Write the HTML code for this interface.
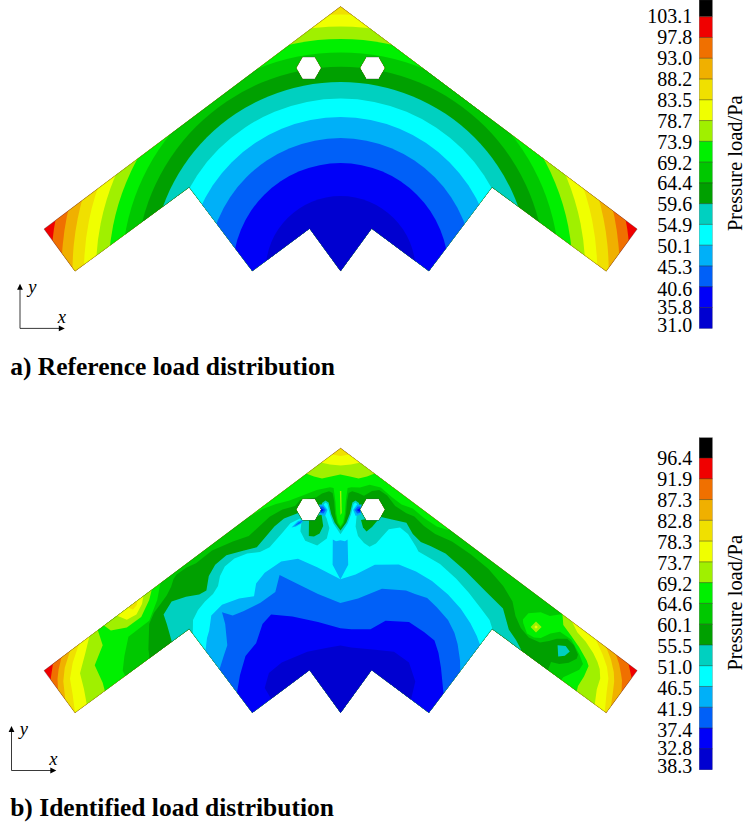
<!DOCTYPE html>
<html><head><meta charset="utf-8"><title>Load distribution</title>
<style>
html,body{margin:0;padding:0;background:#fff;}
body{width:750px;height:825px;overflow:hidden;position:relative;font-family:"Liberation Serif",serif;}
svg{position:absolute;left:0;top:0;}
text{font-family:"Liberation Serif",serif;fill:#000;}
</style></head><body>
<svg width="750" height="825" viewBox="0 0 750 825">
<defs>
<clipPath id="clipa"><path d="M340.6,6.6 L44.0,229.0 L75.0,271.2 L189.2,187.3 L252.3,271.1 L309.6,228.5 L340.6,271.1 L371.6,228.5 L428.9,271.1 L492.0,187.3 L606.2,271.2 L637.2,229.0ZM296.1,68.0 L302.4,57.1 L315.0,57.1 L321.3,68.0 L315.0,78.9 L302.4,78.9ZM359.9,68.0 L366.2,57.1 L378.8,57.1 L385.1,68.0 L378.8,78.9 L366.2,78.9Z" clip-rule="evenodd"/></clipPath>
<clipPath id="clipb"><path d="M340.6,448.2 L44.0,670.6 L75.0,712.8 L189.2,628.9 L252.3,712.7 L309.6,670.1 L340.6,712.7 L371.6,670.1 L428.9,712.7 L492.0,628.9 L606.2,712.8 L637.2,670.6ZM296.1,509.6 L302.4,498.7 L315.0,498.7 L321.3,509.6 L315.0,520.5 L302.4,520.5ZM359.9,509.6 L366.2,498.7 L378.8,498.7 L385.1,509.6 L378.8,520.5 L366.2,520.5Z" clip-rule="evenodd"/></clipPath>
</defs>
<g clip-path="url(#clipa)">
<rect x="0" y="0" width="750" height="300" fill="#f00000"/>
<circle cx="340.6" cy="271.0" r="289.7" fill="#f07000"/>
<circle cx="340.6" cy="271.0" r="279.1" fill="#f0b000"/>
<circle cx="340.6" cy="271.0" r="268.1" fill="#f0e000"/>
<circle cx="340.6" cy="271.0" r="256.6" fill="#f0ff00"/>
<circle cx="340.6" cy="271.0" r="244.6" fill="#a0f000"/>
<circle cx="340.6" cy="271.0" r="232.0" fill="#00f000"/>
<circle cx="340.6" cy="271.0" r="218.6" fill="#00c800"/>
<circle cx="340.6" cy="271.0" r="204.3" fill="#00a000"/>
<circle cx="340.6" cy="271.0" r="189.0" fill="#00d0c0"/>
<circle cx="340.6" cy="271.0" r="172.4" fill="#00ffff"/>
<circle cx="340.6" cy="271.0" r="153.9" fill="#00b0f8"/>
<circle cx="340.6" cy="271.0" r="132.9" fill="#0060f8"/>
<circle cx="340.6" cy="271.0" r="107.9" fill="#0000f8"/>
<circle cx="340.6" cy="271.0" r="75.0" fill="#0000d0"/>
</g>
<path d="M340.6,6.6 L44.0,229.0 L75.0,271.2 L189.2,187.3 L252.3,271.1 L309.6,228.5 L340.6,271.1 L371.6,228.5 L428.9,271.1 L492.0,187.3 L606.2,271.2 L637.2,229.0ZM296.1,68.0 L302.4,57.1 L315.0,57.1 L321.3,68.0 L315.0,78.9 L302.4,78.9ZM359.9,68.0 L366.2,57.1 L378.8,57.1 L385.1,68.0 L378.8,78.9 L366.2,78.9Z" fill="none" stroke="#333" stroke-width="0.6" stroke-opacity="0.55"/>
<g clip-path="url(#clipb)">
<rect x="0" y="425.0" width="750" height="320.0" fill="#f00000"/>
<path d="M53.0,425.0 L53.0,663.5 L50.7,679.0 L49.5,690.0 L49.5,745.0 L632.5,745.0 L632.5,690.0 L631.6,678.0 L628.6,664.3 L628.6,425.0Z" fill="#f07000" />
<path d="M61.6,425.0 L61.6,657.0 L58.6,669.5 L57.5,679.0 L58.0,688.5 L58.0,700.0 L58.0,745.0 L621.5,745.0 L621.5,702.0 L621.6,690.5 L622.0,680.6 L621.0,673.8 L619.1,664.1 L615.9,654.6 L615.9,425.0Z" fill="#f0b000" />
<path d="M70.0,425.0 L70.0,651.0 L64.7,668.0 L63.3,681.3 L65.3,699.5 L66.0,712.0 L66.0,745.0 L610.5,745.0 L610.5,716.0 L611.0,705.5 L612.8,693.2 L614.2,681.6 L613.8,671.9 L610.9,659.2 L606.2,647.3 L606.2,425.0Z" fill="#f0e000" />
<path d="M78.7,425.0 L78.7,644.7 L72.7,662.7 L70.0,678.7 L72.7,694.7 L74.9,712.0 L75.0,720.0 L75.0,745.0 L604.5,745.0 L604.5,722.0 L604.8,711.6 L606.5,693.2 L608.4,678.6 L607.0,667.0 L602.6,654.4 L595.8,639.6 L595.8,425.0 L361.7,442.6 L349.7,454.6 L340.6,456.0 L331.5,454.6 L319.5,442.6Z" fill="#f0ff00" />
<path d="M89.3,425.0 L89.3,636.7 L85.3,653.3 L80.0,673.3 L84.0,689.3 L86.7,704.0 L87.0,715.0 L87.0,745.0 L594.5,745.0 L594.5,716.0 L594.8,704.0 L596.8,689.3 L600.2,678.6 L599.7,668.9 L597.5,662.0 L593.2,652.9 L585.8,641.7 L577.3,632.3 L571.9,621.6 L571.9,425.0 L372.6,450.4 L360.6,462.4 L351.0,464.6 L340.6,465.6 L330.0,464.6 L320.6,462.4 L308.6,450.4Z" fill="#a0f000" />
<path d="M98.0,425.0 L98.0,630.7 L102.7,645.3 L94.7,665.3 L102.7,682.7 L104.7,690.5 L105.0,702.0 L105.0,745.0 L576.5,745.0 L576.5,702.0 L576.7,691.5 L578.0,686.0 L584.0,676.5 L588.6,666.0 L586.7,660.4 L579.2,647.3 L570.8,635.2 L563.3,625.0 L562.5,614.2 L562.5,425.0 L386.6,461.4 L374.6,473.4 L367.0,476.5 L358.6,478.6 L350.0,476.5 L340.3,474.5 L331.0,476.5 L322.0,478.6 L314.0,476.5 L306.0,473.6 L294.0,461.6Z" fill="#00f000" />
<path d="M126.0,745.0 L126.0,690.0 L125.3,676.0 L122.7,670.7 L124.4,656.0 L128.4,636.8 L149.2,620.8 L157.2,600.0 L160.4,583.0 L158.0,568.0 L250.0,502.0 L250.4,516.0 L263.2,508.8 L276.0,504.0 L288.8,500.8 L303.3,495.3 L316.7,490.0 L330.0,487.3 L333.6,488.0 L335.4,501.2 L336.3,514.0 L338.0,522.4 L340.5,526.3 L343.0,522.4 L344.8,514.0 L345.8,501.2 L347.6,488.0 L351.3,487.3 L360.0,487.6 L369.6,484.8 L380.8,487.6 L392.0,497.2 L401.6,504.4 L412.8,508.4 L424.0,518.0 L436.8,526.5 L448.0,530.0 L455.0,520.0 L562.0,600.0 L562.4,614.0 L550.0,616.0 L540.7,612.2 L528.4,613.3 L522.9,619.4 L523.2,623.0 L527.0,633.5 L534.0,637.5 L540.8,638.0 L550.4,633.4 L560.0,631.8 L571.2,639.6 L579.2,654.0 L583.0,664.0 L579.3,669.8 L568.7,674.7 L563.3,677.3 L561.3,680.0 L560.0,692.0 L560.0,745.0Z" fill="#00c800" />
<path d="M149.5,745.0 L149.5,668.0 L149.2,655.0 L148.4,649.6 L149.2,624.0 L154.0,612.8 L160.5,604.0 L166.8,595.2 L171.0,587.0 L173.5,579.0 L176.5,574.5 L186.5,567.5 L196.0,563.2 L212.0,550.4 L232.8,541.6 L248.8,536.0 L269.6,516.8 L282.4,509.6 L295.2,506.0 L300.0,500.0 L316.0,497.5 L322.0,493.5 L329.0,491.3 L332.6,493.0 L334.2,501.2 L335.1,514.0 L337.0,523.0 L340.5,528.2 L344.0,523.0 L346.0,514.0 L347.0,501.2 L348.6,493.0 L352.2,491.3 L358.0,493.0 L364.0,495.8 L367.0,494.0 L372.0,491.0 L379.2,490.0 L387.2,495.6 L395.2,506.0 L406.4,513.2 L414.4,516.4 L424.0,526.0 L435.2,534.0 L452.0,541.5 L471.0,554.5 L488.5,569.0 L503.2,586.0 L512.5,601.5 L515.5,616.0 L520.8,628.0 L528.8,637.6 L540.0,642.4 L549.0,641.0 L556.7,638.7 L567.3,638.7 L574.0,645.3 L578.0,654.7 L576.7,658.7 L568.7,662.7 L559.3,664.0 L551.0,662.0 L548.0,670.0 L547.0,682.0 L547.0,745.0Z" fill="#00a000" />
<path d="M172.0,745.0 L172.0,652.0 L171.6,641.0 L166.8,624.0 L163.6,614.4 L171.6,601.6 L186.0,596.8 L199.2,594.4 L206.4,590.4 L208.8,576.0 L215.2,564.8 L226.4,555.2 L244.0,550.4 L256.8,547.2 L274.4,526.4 L284.0,518.4 L297.0,513.6 L302.0,511.0 L321.3,509.6 L322.0,503.0 L325.5,500.4 L328.6,502.5 L331.2,514.0 L334.6,522.4 L340.5,530.5 L346.4,522.4 L349.8,514.0 L352.4,502.5 L355.5,500.4 L359.0,503.0 L359.3,509.6 L381.0,517.0 L392.0,519.6 L406.4,522.8 L412.8,534.0 L420.8,542.0 L430.4,546.0 L445.5,553.6 L465.0,570.5 L485.8,591.5 L503.0,608.4 L508.8,629.6 L516.0,640.0 L521.0,649.6 L521.0,662.0 L521.0,745.0Z" fill="#00d0c0" />
<path d="M185.0,745.0 L185.0,642.0 L192.8,633.0 L193.0,620.0 L198.0,610.0 L205.0,601.5 L213.0,594.0 L218.0,586.0 L220.0,576.0 L224.8,566.4 L234.4,558.4 L247.2,553.6 L260.0,552.0 L269.6,547.2 L282.4,532.8 L290.4,523.2 L300.0,518.6 L301.6,521.0 L300.4,531.2 L305.2,540.8 L317.2,545.6 L326.8,538.4 L329.4,528.0 L326.5,518.0 L322.8,511.0 L323.2,505.0 L325.5,502.4 L327.5,504.0 L330.0,514.5 L333.4,523.5 L340.5,534.3 L347.6,523.5 L351.0,514.5 L353.5,504.0 L355.5,502.4 L357.8,505.0 L358.4,511.0 L356.6,516.0 L355.6,526.4 L358.0,536.0 L364.0,543.0 L369.6,546.8 L376.0,543.6 L388.8,529.2 L400.0,527.6 L408.0,534.0 L416.0,546.8 L418.4,551.5 L428.8,557.5 L440.0,564.0 L456.0,578.4 L468.8,592.8 L480.0,607.2 L489.6,620.0 L492.4,629.0 L497.0,642.0 L497.0,745.0Z" fill="#00ffff" />
<path d="M198.0,745.0 L198.0,658.0 L205.5,650.6 L207.0,638.0 L209.2,630.4 L211.3,615.5 L222.0,604.8 L239.1,598.4 L254.0,596.3 L256.1,583.5 L264.7,572.8 L281.2,561.5 L298.0,558.8 L317.2,567.2 L340.4,579.2 L355.6,574.4 L374.8,564.8 L398.8,564.5 L416.0,571.5 L432.0,581.0 L448.0,594.4 L460.8,608.8 L470.4,623.2 L476.8,636.0 L480.0,644.8 L488.0,652.0 L488.0,745.0Z" fill="#00b0f8" />
<path d="M332.8,539.6 L336.0,541.2 L340.4,540.2 L345.0,541.2 L347.6,539.4 L348.2,564.8 L340.4,579.6 L332.6,564.8Z" fill="#00b0f8" />
<path d="M212.0,745.0 L212.0,678.0 L219.5,669.3 L224.0,655.0 L227.3,645.3 L225.2,624.0 L222.0,612.3 L232.7,615.5 L243.3,611.2 L260.4,602.7 L275.3,592.0 L279.6,575.0 L296.7,583.5 L318.0,594.1 L340.4,603.0 L358.0,598.4 L382.0,588.8 L406.0,590.5 L415.0,594.0 L427.2,598.0 L436.8,607.2 L448.0,620.0 L454.4,632.8 L457.6,644.0 L460.0,660.0 L460.3,671.2 L468.0,680.0 L468.0,745.0Z" fill="#0060f8" />
<path d="M230.0,745.0 L230.0,702.0 L237.0,692.6 L240.0,675.0 L245.5,656.0 L256.1,643.2 L262.5,624.0 L271.1,614.4 L292.4,616.5 L318.0,621.9 L340.4,628.3 L351.3,629.3 L370.5,629.3 L385.5,620.8 L409.0,621.9 L424.0,632.0 L434.5,640.5 L438.5,653.0 L441.0,668.0 L443.5,693.3 L452.0,702.0 L452.0,745.0Z" fill="#0000f8" />
<path d="M271.0,745.0 L271.0,712.0 L271.1,698.7 L264.7,688.0 L268.9,673.0 L281.7,662.4 L307.3,651.7 L328.7,647.5 L340.4,645.5 L351.3,647.5 L372.7,649.6 L394.0,651.7 L409.0,662.4 L415.3,681.6 L411.0,699.4 L411.0,714.0 L411.0,745.0Z" fill="#0000d0" />
<path d="M309.0,519.0 L308.8,536.0 L314.0,536.6 L319.6,533.6 L323.2,526.0 L321.5,514.0 L316.0,517.0Z" fill="#00a000" />
<path d="M361.0,520.0 L363.0,527.5 L366.5,531.5 L372.0,527.0 L377.5,520.5 L372.0,518.0Z" fill="#00a000" />
<path d="M319.0,504.5 L323.5,504.5 L327.5,510.0 L325.0,516.0 L319.5,514.5Z" fill="#00b0f8" />
<path d="M320.0,506.5 L323.0,506.5 L325.8,510.0 L323.5,513.5 L320.0,512.8Z" fill="#0060f8" />
<path d="M320.5,508.0 L324.0,510.0 L321.0,512.0Z" fill="#0000f8" />
<path d="M361.7,504.5 L357.2,504.5 L353.2,510.0 L355.7,516.0 L361.2,514.5Z" fill="#00b0f8" />
<path d="M360.7,506.5 L357.7,506.5 L354.9,510.0 L357.2,513.5 L360.7,512.8Z" fill="#0060f8" />
<path d="M360.2,508.0 L356.7,510.0 L359.7,512.0Z" fill="#0000f8" />
<path d="M304.0,519.5 L298.0,521.0 L291.5,527.5 L296.0,526.5 L302.0,523.0Z" fill="#00b0f8" />
<path d="M302.5,520.5 L298.5,522.5 L294.0,526.2 L300.0,523.2Z" fill="#0060f8" />
<path d="M339.9,491.0 L341.3,491.0 L341.7,513.0 L340.5,515.0Z" fill="#a0f000" />
<path d="M98.0,612.0 L104.0,625.6 L110.8,630.4 L126.8,627.6 L141.2,617.0 L149.2,600.0 L151.8,589.4 L150.0,578.0Z" fill="#a0f000" />
<path d="M112.0,604.0 L117.2,615.8 L126.8,619.8 L136.4,614.4 L142.0,604.0 L143.4,596.0 L142.0,586.0Z" fill="#f0ff00" />
<path d="M126.0,600.0 L128.5,607.8 L133.0,609.6 L136.8,605.0 L137.5,600.5 L135.0,592.0Z" fill="#f0e000" />
<path d="M530.6,627.0 L536.0,621.6 L541.6,627.0 L536.0,632.4Z" fill="#a0f000" />
<path d="M534.3,627.0 L536.0,625.2 L537.8,627.0 L536.0,628.8Z" fill="#f0ff00" />
<path d="M557.6,645.2 L565.6,646.0 L569.8,651.6 L564.8,655.8 L558.2,656.6Z" fill="#00d0c0" />
</g>
<path d="M340.6,448.2 L44.0,670.6 L75.0,712.8 L189.2,628.9 L252.3,712.7 L309.6,670.1 L340.6,712.7 L371.6,670.1 L428.9,712.7 L492.0,628.9 L606.2,712.8 L637.2,670.6ZM296.1,509.6 L302.4,498.7 L315.0,498.7 L321.3,509.6 L315.0,520.5 L302.4,520.5ZM359.9,509.6 L366.2,498.7 L378.8,498.7 L385.1,509.6 L378.8,520.5 L366.2,520.5Z" fill="none" stroke="#333" stroke-width="0.6" stroke-opacity="0.55"/>
<rect x="699.2" y="0" width="13.2" height="16.7" fill="#000"/>
<rect x="699.2" y="16.70" width="13.2" height="21.07" fill="#f00000"/>
<rect x="699.2" y="37.47" width="13.2" height="21.07" fill="#f07000"/>
<rect x="699.2" y="58.24" width="13.2" height="21.07" fill="#f0b000"/>
<rect x="699.2" y="79.01" width="13.2" height="21.07" fill="#f0e000"/>
<rect x="699.2" y="99.78" width="13.2" height="21.07" fill="#f0ff00"/>
<rect x="699.2" y="120.55" width="13.2" height="21.07" fill="#a0f000"/>
<rect x="699.2" y="141.32" width="13.2" height="21.07" fill="#00f000"/>
<rect x="699.2" y="162.09" width="13.2" height="21.07" fill="#00c800"/>
<rect x="699.2" y="182.86" width="13.2" height="21.07" fill="#00a000"/>
<rect x="699.2" y="203.63" width="13.2" height="21.07" fill="#00d0c0"/>
<rect x="699.2" y="224.40" width="13.2" height="21.07" fill="#00ffff"/>
<rect x="699.2" y="245.17" width="13.2" height="21.07" fill="#00b0f8"/>
<rect x="699.2" y="265.94" width="13.2" height="21.07" fill="#0060f8"/>
<rect x="699.2" y="286.71" width="13.2" height="21.07" fill="#0000f8"/>
<rect x="699.2" y="307.48" width="13.2" height="21.07" fill="#0000d0"/>
<line x1="699.2" y1="16.70" x2="712.4" y2="16.70" stroke="#303020" stroke-width="0.6" stroke-opacity="0.8"/>
<line x1="699.2" y1="37.47" x2="712.4" y2="37.47" stroke="#303020" stroke-width="0.6" stroke-opacity="0.8"/>
<line x1="699.2" y1="58.24" x2="712.4" y2="58.24" stroke="#303020" stroke-width="0.6" stroke-opacity="0.8"/>
<line x1="699.2" y1="79.01" x2="712.4" y2="79.01" stroke="#303020" stroke-width="0.6" stroke-opacity="0.8"/>
<line x1="699.2" y1="99.78" x2="712.4" y2="99.78" stroke="#303020" stroke-width="0.6" stroke-opacity="0.8"/>
<line x1="699.2" y1="120.55" x2="712.4" y2="120.55" stroke="#303020" stroke-width="0.6" stroke-opacity="0.8"/>
<line x1="699.2" y1="141.32" x2="712.4" y2="141.32" stroke="#303020" stroke-width="0.6" stroke-opacity="0.8"/>
<line x1="699.2" y1="162.09" x2="712.4" y2="162.09" stroke="#303020" stroke-width="0.6" stroke-opacity="0.8"/>
<line x1="699.2" y1="182.86" x2="712.4" y2="182.86" stroke="#303020" stroke-width="0.6" stroke-opacity="0.8"/>
<line x1="699.2" y1="203.63" x2="712.4" y2="203.63" stroke="#303020" stroke-width="0.6" stroke-opacity="0.8"/>
<line x1="699.2" y1="224.40" x2="712.4" y2="224.40" stroke="#303020" stroke-width="0.6" stroke-opacity="0.8"/>
<line x1="699.2" y1="245.17" x2="712.4" y2="245.17" stroke="#303020" stroke-width="0.6" stroke-opacity="0.8"/>
<line x1="699.2" y1="265.94" x2="712.4" y2="265.94" stroke="#303020" stroke-width="0.6" stroke-opacity="0.8"/>
<line x1="699.2" y1="286.71" x2="712.4" y2="286.71" stroke="#303020" stroke-width="0.6" stroke-opacity="0.8"/>
<line x1="699.2" y1="307.48" x2="712.4" y2="307.48" stroke="#303020" stroke-width="0.6" stroke-opacity="0.8"/>
<rect x="699.2" y="0" width="13.2" height="328.25" fill="none" stroke="#404040" stroke-width="0.4" stroke-opacity="0.6"/>
<text x="692.2" y="23.0" font-size="20" text-anchor="end">103.1</text>
<text x="692.2" y="43.9" font-size="20" text-anchor="end">97.8</text>
<text x="692.2" y="64.9" font-size="20" text-anchor="end">93.0</text>
<text x="692.2" y="85.8" font-size="20" text-anchor="end">88.2</text>
<text x="692.2" y="106.7" font-size="20" text-anchor="end">83.5</text>
<text x="692.2" y="127.7" font-size="20" text-anchor="end">78.7</text>
<text x="692.2" y="148.6" font-size="20" text-anchor="end">73.9</text>
<text x="692.2" y="169.5" font-size="20" text-anchor="end">69.2</text>
<text x="692.2" y="190.4" font-size="20" text-anchor="end">64.4</text>
<text x="692.2" y="211.4" font-size="20" text-anchor="end">59.6</text>
<text x="692.2" y="232.3" font-size="20" text-anchor="end">54.9</text>
<text x="692.2" y="253.2" font-size="20" text-anchor="end">50.1</text>
<text x="692.2" y="274.2" font-size="20" text-anchor="end">45.3</text>
<text x="692.2" y="296.2" font-size="20" text-anchor="end">40.6</text>
<text x="692.2" y="313.6" font-size="20" text-anchor="end">35.8</text>
<text x="692.2" y="331.8" font-size="20" text-anchor="end">31.0</text>
<rect x="699.2" y="437.7" width="13.2" height="20.3" fill="#000"/>
<rect x="699.2" y="458.00" width="13.2" height="21.07" fill="#f00000"/>
<rect x="699.2" y="478.77" width="13.2" height="21.07" fill="#f07000"/>
<rect x="699.2" y="499.54" width="13.2" height="21.07" fill="#f0b000"/>
<rect x="699.2" y="520.31" width="13.2" height="21.07" fill="#f0e000"/>
<rect x="699.2" y="541.08" width="13.2" height="21.07" fill="#f0ff00"/>
<rect x="699.2" y="561.85" width="13.2" height="21.07" fill="#a0f000"/>
<rect x="699.2" y="582.62" width="13.2" height="21.07" fill="#00f000"/>
<rect x="699.2" y="603.39" width="13.2" height="21.07" fill="#00c800"/>
<rect x="699.2" y="624.16" width="13.2" height="21.07" fill="#00a000"/>
<rect x="699.2" y="644.93" width="13.2" height="21.07" fill="#00d0c0"/>
<rect x="699.2" y="665.70" width="13.2" height="21.07" fill="#00ffff"/>
<rect x="699.2" y="686.47" width="13.2" height="21.07" fill="#00b0f8"/>
<rect x="699.2" y="707.24" width="13.2" height="21.07" fill="#0060f8"/>
<rect x="699.2" y="728.01" width="13.2" height="21.07" fill="#0000f8"/>
<rect x="699.2" y="748.78" width="13.2" height="21.07" fill="#0000d0"/>
<line x1="699.2" y1="458.00" x2="712.4" y2="458.00" stroke="#303020" stroke-width="0.6" stroke-opacity="0.8"/>
<line x1="699.2" y1="478.77" x2="712.4" y2="478.77" stroke="#303020" stroke-width="0.6" stroke-opacity="0.8"/>
<line x1="699.2" y1="499.54" x2="712.4" y2="499.54" stroke="#303020" stroke-width="0.6" stroke-opacity="0.8"/>
<line x1="699.2" y1="520.31" x2="712.4" y2="520.31" stroke="#303020" stroke-width="0.6" stroke-opacity="0.8"/>
<line x1="699.2" y1="541.08" x2="712.4" y2="541.08" stroke="#303020" stroke-width="0.6" stroke-opacity="0.8"/>
<line x1="699.2" y1="561.85" x2="712.4" y2="561.85" stroke="#303020" stroke-width="0.6" stroke-opacity="0.8"/>
<line x1="699.2" y1="582.62" x2="712.4" y2="582.62" stroke="#303020" stroke-width="0.6" stroke-opacity="0.8"/>
<line x1="699.2" y1="603.39" x2="712.4" y2="603.39" stroke="#303020" stroke-width="0.6" stroke-opacity="0.8"/>
<line x1="699.2" y1="624.16" x2="712.4" y2="624.16" stroke="#303020" stroke-width="0.6" stroke-opacity="0.8"/>
<line x1="699.2" y1="644.93" x2="712.4" y2="644.93" stroke="#303020" stroke-width="0.6" stroke-opacity="0.8"/>
<line x1="699.2" y1="665.70" x2="712.4" y2="665.70" stroke="#303020" stroke-width="0.6" stroke-opacity="0.8"/>
<line x1="699.2" y1="686.47" x2="712.4" y2="686.47" stroke="#303020" stroke-width="0.6" stroke-opacity="0.8"/>
<line x1="699.2" y1="707.24" x2="712.4" y2="707.24" stroke="#303020" stroke-width="0.6" stroke-opacity="0.8"/>
<line x1="699.2" y1="728.01" x2="712.4" y2="728.01" stroke="#303020" stroke-width="0.6" stroke-opacity="0.8"/>
<line x1="699.2" y1="748.78" x2="712.4" y2="748.78" stroke="#303020" stroke-width="0.6" stroke-opacity="0.8"/>
<rect x="699.2" y="437.7" width="13.2" height="331.85" fill="none" stroke="#404040" stroke-width="0.4" stroke-opacity="0.6"/>
<text x="692.2" y="465.4" font-size="20" text-anchor="end">96.4</text>
<text x="692.2" y="486.3" font-size="20" text-anchor="end">91.9</text>
<text x="692.2" y="507.1" font-size="20" text-anchor="end">87.3</text>
<text x="692.2" y="527.9" font-size="20" text-anchor="end">82.8</text>
<text x="692.2" y="548.8" font-size="20" text-anchor="end">78.3</text>
<text x="692.2" y="569.6" font-size="20" text-anchor="end">73.7</text>
<text x="692.2" y="590.5" font-size="20" text-anchor="end">69.2</text>
<text x="692.2" y="611.4" font-size="20" text-anchor="end">64.6</text>
<text x="692.2" y="632.2" font-size="20" text-anchor="end">60.1</text>
<text x="692.2" y="653.0" font-size="20" text-anchor="end">55.5</text>
<text x="692.2" y="673.9" font-size="20" text-anchor="end">51.0</text>
<text x="692.2" y="694.8" font-size="20" text-anchor="end">46.5</text>
<text x="692.2" y="715.6" font-size="20" text-anchor="end">41.9</text>
<text x="692.2" y="737.0" font-size="20" text-anchor="end">37.4</text>
<text x="692.2" y="755.1" font-size="20" text-anchor="end">32.8</text>
<text x="692.2" y="773.4" font-size="20" text-anchor="end">38.3</text>
<text transform="translate(742.0,163.2) rotate(-90)" font-size="21.6" text-anchor="middle" textLength="135.6" lengthAdjust="spacingAndGlyphs">Pressure load/Pa</text>
<text transform="translate(742.0,602.8) rotate(-90)" font-size="21.6" text-anchor="middle" textLength="135.6" lengthAdjust="spacingAndGlyphs">Pressure load/Pa</text>
<path d="M20.0,288.4 L20.0,328.4 L60.0,328.4" fill="none" stroke="#222" stroke-width="0.9"/>
<path d="M20.0,283.79999999999995 L17.1,289.79999999999995 L22.9,289.79999999999995Z" fill="#000"/>
<path d="M64.8,328.4 L58.8,325.5 L58.8,331.29999999999995Z" fill="#000"/>
<text x="28.3" y="292.7" font-size="18.5" font-style="italic">y</text>
<text x="57.8" y="323.2" font-size="18.5" font-style="italic">x</text>
<path d="M11.5,730.5 L11.5,770.5 L51.5,770.5" fill="none" stroke="#222" stroke-width="0.9"/>
<path d="M11.5,725.9 L8.6,731.9 L14.4,731.9Z" fill="#000"/>
<path d="M56.3,770.5 L50.3,767.6 L50.3,773.4Z" fill="#000"/>
<text x="19.8" y="734.8" font-size="18.5" font-style="italic">y</text>
<text x="49.3" y="765.3" font-size="18.5" font-style="italic">x</text>
<text x="10.2" y="375.1" font-size="25.5" font-weight="bold">a) Reference load distribution</text>
<text x="10.2" y="816.1" font-size="25.5" font-weight="bold">b) Identified load distribution</text>
</svg></body></html>
